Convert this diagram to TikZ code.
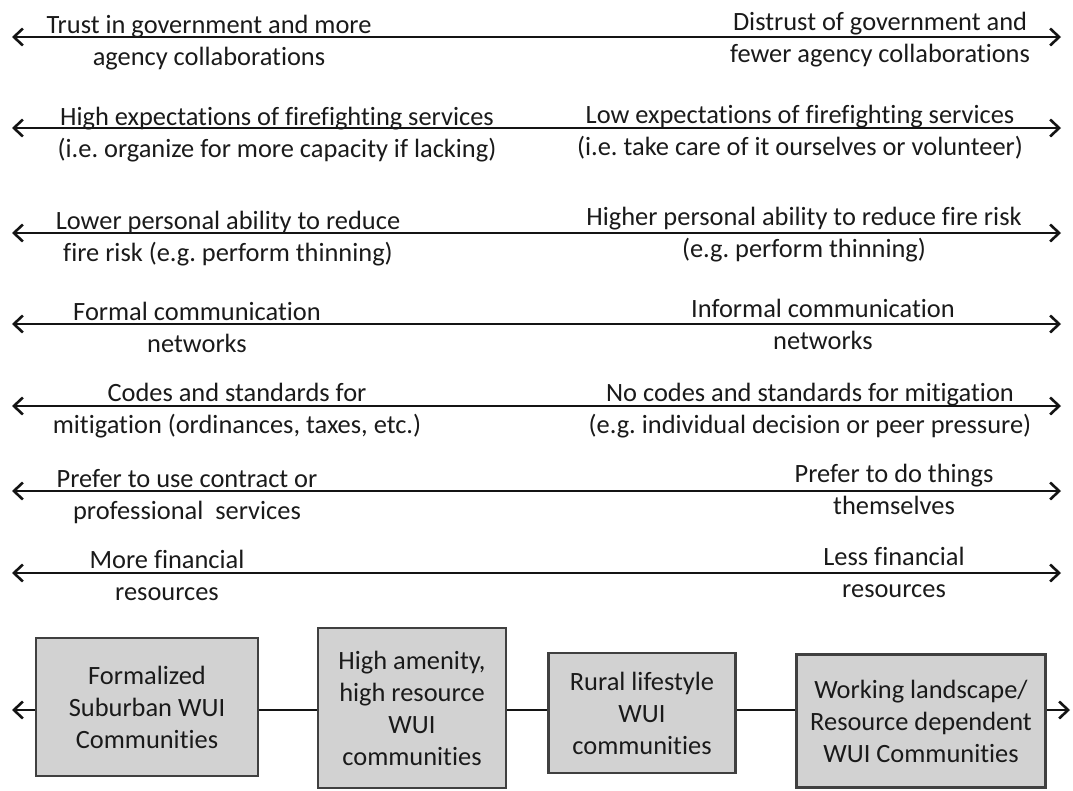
\documentclass[tikz,border=0pt]{standalone}
\usepackage{fontspec}
\setmainfont{Carlito}[Ligatures=NoCommon]
\usetikzlibrary{arrows.meta}
\definecolor{txtgray}{HTML}{1A1A1A}
\definecolor{boxline}{HTML}{404040}
\definecolor{boxfill}{HTML}{D2D2D2}
\frenchspacing

\begin{document}
\begin{tikzpicture}[x=1pt,y=-1pt,
    lbl/.style={anchor=base,align=center,inner sep=0pt,text=txtgray,font=\fontsize{26.4}{32}\selectfont},
    axisline/.style={{Straight Barb[length=9pt,width=17pt]}-{Straight Barb[length=9pt,width=17pt]},line width=2.6pt,draw=black!92},
    wuibox/.style={draw=boxline,line width=2.6pt,fill=boxfill,align=center,inner sep=0pt,text=txtgray,font=\fontsize{26.4}{32}\selectfont}]
    \useasboundingbox (0,0) rectangle (1073,790);
    % scales
    \coordinate (w1) at (12,37);  \coordinate (e1) at (1061,37);
    \coordinate (w2) at (12,128); \coordinate (e2) at (1061,128);
    \coordinate (w3) at (12,233); \coordinate (e3) at (1061,233);
    \coordinate (w4) at (12,324); \coordinate (e4) at (1061,324);
    \coordinate (w5) at (12,406); \coordinate (e5) at (1061,406);
    \coordinate (w6) at (12,491); \coordinate (e6) at (1061,491);
    \coordinate (w7) at (12,573); \coordinate (e7) at (1061,573);
    \draw[axisline] (w1)--(e1);
    \draw[axisline] (w2)--(e2);
    \draw[axisline] (w3)--(e3);
    \draw[axisline] (w4)--(e4);
    \draw[axisline] (w5)--(e5);
    \draw[axisline] (w6)--(e6);
    \draw[axisline] (w7)--(e7);
    % labels sit on the baseline of their second line
    \node[lbl] (trustL) at (209,65) {Trust in government and more\\agency collaborations};
    \node[lbl] (trustR) at (880,62) {Distrust of government and\\fewer agency collaborations};
    \node[lbl] (fireL) at (277,157) {High expectations of firefighting services\\(i.e. organize for more capacity if lacking)};
    \node[lbl] (fireR) at (800,155) {Low expectations of firefighting services\\(i.e. take care of it ourselves or volunteer)};
    \node[lbl] (riskL) at (228,261) {Lower personal ability to reduce\\fire risk (e.g. perform thinning)};
    \node[lbl] (riskR) at (804,257) {Higher personal ability to reduce fire risk\\(e.g. perform thinning)};
    \node[lbl] (commL) at (197,352) {Formal communication\\networks};
    \node[lbl] (commR) at (823,349) {Informal communication\\networks};
    \node[lbl] (codeL) at (237,433) {Codes and standards for\\mitigation (ordinances, taxes, etc.)};
    \node[lbl] (codeR) at (810,433) {No codes and standards for mitigation\\(e.g. individual decision or peer pressure)};
    \node[lbl] (servL) at (187,519) {Prefer to use contract or\\professional~ services};
    \node[lbl] (servR) at (894,514) {Prefer to do things\\themselves};
    \node[lbl] (fundL) at (167,600) {More financial\\resources};
    \node[lbl] (fundR) at (894,597) {Less financial\\resources};
    % community types
    \coordinate (wb) at (12,710); \coordinate (eb) at (1070,710);
    \draw[axisline] (wb)--(eb);
    \node[wuibox,minimum width=222pt,minimum height=138pt] (suburb) at (147,707) {Formalized\\Suburban WUI\\Communities};
    \node[wuibox,minimum width=188pt,minimum height=160pt] (amenity) at (412,708) {High amenity,\\high resource\\WUI\\communities};
    \node[wuibox,minimum width=187pt,minimum height=120pt] (rural) at (642,713) {Rural lifestyle\\WUI\\communities};
    \node[wuibox,minimum width=249pt,minimum height=133pt] (working) at (921,721) {Working landscape/\\Resource dependent\\WUI Communities};
\end{tikzpicture}
\end{document}
